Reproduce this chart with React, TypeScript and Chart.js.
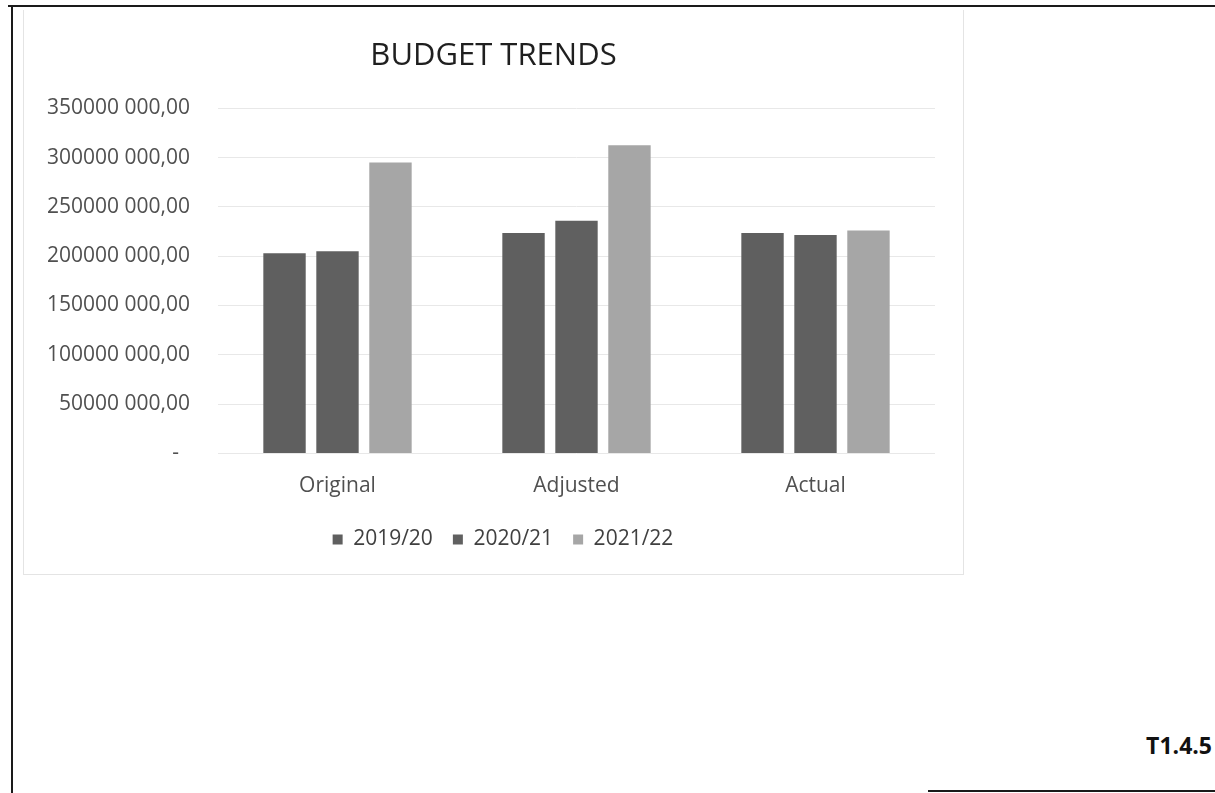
import React, { useEffect, useRef } from "react";
import { Chart, registerables } from "chart.js";

Chart.register(...registerables);

const categories = ["Original", "Adjusted", "Actual"];
const seriesNames = ["2019/20", "2020/21", "2021/22"];
const values2019 = [203000000, 223500000, 223500000];
const values2020 = [205000000, 236000000, 221500000];
const values2021 = [295000000, 312500000, 226000000];
const seriesColors = ["#5f5f5f", "#606060", "#a6a6a6"];
const yMax = 350000000;
const yStep = 50000000;

function formatTick(v: number): string {
  if (v === 0) return "-  ";
  const thousands = Math.floor(v / 1000);
  const rest = String(v % 1000).padStart(3, "0");
  return `${thousands} ${rest},00`;
}

const shiftBlocks = {
  id: "shiftBlocks",
  afterLayout(chart: any) {
    if (chart.titleBlock) {
      chart.titleBlock.left += 14.5;
      chart.titleBlock.right += 14.5;
    }
    if (chart.legend) {
      chart.legend.left += 24;
      chart.legend.right += 24;
    }
  },
};

export default function App() {
  const canvasRef = useRef<HTMLCanvasElement | null>(null);

  useEffect(() => {
    if (!canvasRef.current) return;
    Chart.defaults.font.family = "'Open Sans', sans-serif";
    const chart = new Chart(canvasRef.current, {
      type: "bar",
      data: {
        labels: categories,
        datasets: [values2019, values2020, values2021].map((vals, i) => ({
          label: seriesNames[i],
          data: vals,
          backgroundColor: seriesColors[i],
          borderWidth: 0,
          barPercentage: 0.8,
          categoryPercentage: 0.665,
        })),
      },
      plugins: [shiftBlocks],
      options: {
        animation: false,
        responsive: false,
        maintainAspectRatio: false,
        layout: { padding: { left: 0, right: 29, top: 0, bottom: 15 } },
        plugins: {
          title: {
            display: true,
            text: "BUDGET TRENDS",
            color: "#1f1f1f",
            font: { size: 31, weight: "normal" },
            padding: { top: 28, bottom: 33 },
          },
          legend: {
            display: true,
            position: "bottom",
            labels: {
              boxWidth: 10,
              boxHeight: 10,
              padding: 20,
              color: "#404040",
              font: { size: 21 },
            },
          },
          tooltip: { enabled: false },
        },
        scales: {
          x: {
            grid: { display: false, drawTicks: false },
            border: { display: false },
            ticks: { color: "#505050", font: { size: 21 }, padding: 19.5 },
            afterFit: (scale: any) => {
              scale.height = 55.5;
            },
          },
          y: {
            min: 0,
            max: yMax,
            grid: { color: "#e8e8e8", lineWidth: 1, drawTicks: false },
            border: { display: false },
            ticks: {
              stepSize: yStep,
              color: "#505050",
              font: { size: 21 },
              padding: 28,
              callback: (v: any) => formatTick(Number(v)),
            },
            afterFit: (scale: any) => {
              scale.width = 195;
            },
          },
        },
      },
    });
    return () => chart.destroy();
  }, []);

  return (
    <div style={{ position: "absolute", left: 0, top: 0, width: 1215, height: 793, background: "#fff", overflow: "hidden" }}>
      <div style={{ position: "absolute", left: 8, top: 5, width: 1207, height: 2, background: "#1a1a1a" }} />
      <div style={{ position: "absolute", left: 11, top: 6, width: 2, height: 787, background: "#1a1a1a" }} />
      <div style={{ position: "absolute", left: 928, top: 790, width: 287, height: 2, background: "#1a1a1a" }} />
      <div style={{ position: "absolute", left: 23, top: 10, width: 941, height: 565, boxSizing: "border-box", border: "1px solid #e4e4e4", borderTop: "none" }} />
      <div style={{ position: "absolute", left: 23, top: 10, width: 941, height: 565 }}>
        <canvas ref={canvasRef} width={941} height={565} style={{ width: 941, height: 565 }} />
      </div>
      <div style={{ position: "absolute", right: 3, top: 729, fontFamily: "'Open Sans', sans-serif", fontWeight: 700, fontSize: 23, color: "#111" }}>T1.4.5</div>
    </div>
  );
}
